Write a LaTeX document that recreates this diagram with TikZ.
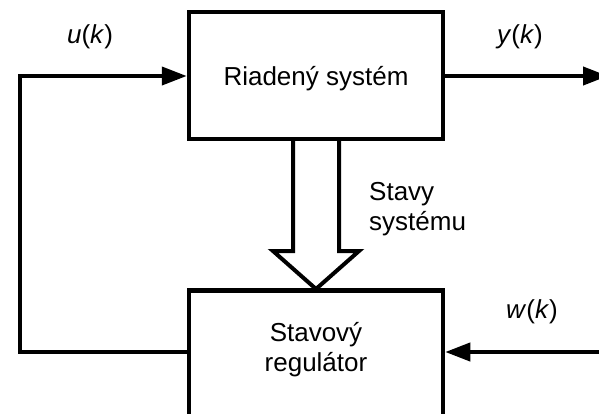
\documentclass[tikz,border=0pt]{standalone}
\usepackage{fontspec}
\setmainfont{Liberation Sans}
\usetikzlibrary{arrows.meta,calc}
\begin{document}
\begin{tikzpicture}[x=1pt,y=-1pt,
  every node/.style={font=\fontsize{26}{30}\selectfont},
  block/.style={draw,line width=4.5pt,minimum width=254pt,inner sep=0pt},
  sig/.style={line width=4pt,-{Triangle[length=25pt,width=18pt]}},
  lbl/.style={inner sep=0pt,anchor=base}]
  \useasboundingbox (0,0) rectangle (599,413);
  \clip (0,0) rectangle (599,413);

  % plant and state controller blocks
  \node[block,minimum height=127pt] (sys) at (316,75.5) {};
  \node[lbl] (systxt) at (316,85) {Riadený systém};
  \node[block,minimum height=160pt,anchor=north] (reg) at (316,288) {};
  \node[inner sep=0pt,align=center] (regtxt) at (316,350) {Stavový\\regulátor};

  % free ends and corners of the signal lines
  \coordinate (yend) at (608,76);
  \coordinate (wstart) at (610,352);
  \coordinate (cb) at (20,352);
  \coordinate (ct) at (20,76);

  % signals
  \draw[sig] (sys.east |- yend) -- (yend);
  \draw[sig] (wstart) -- (reg.east |- wstart);
  \draw[line width=4pt,-{Triangle[length=25pt,width=18pt]}]
    (reg.west |- cb) -- (cb) -- (ct) -- (sys.west |- ct);

  % hollow arrow for the system states
  \draw[line width=4pt,line join=miter]
    ($(sys.south)+(-23,-2)$) -- ($(reg.north)+(-23,-37)$)
    -- ($(reg.north)+(-43,-37)$) -- ($(reg.north)+(0,1)$)
    -- ($(reg.north)+(43,-37)$) -- ($(reg.north)+(23,-37)$)
    -- ($(sys.south)+(23,-2)$);

  % labels
  \node[lbl] (ulbl) at (90,43) {\textit{u}(\textit{k})};
  \node[lbl] (ylbl) at (520,43) {\textit{y}(\textit{k})};
  \node[lbl] (wlbl) at (532,318) {\textit{w}(\textit{k})};
  \node[inner sep=0pt,align=left,anchor=north west] (stlbl) at (369,182) {Stavy\\systému};
\end{tikzpicture}
\end{document}
